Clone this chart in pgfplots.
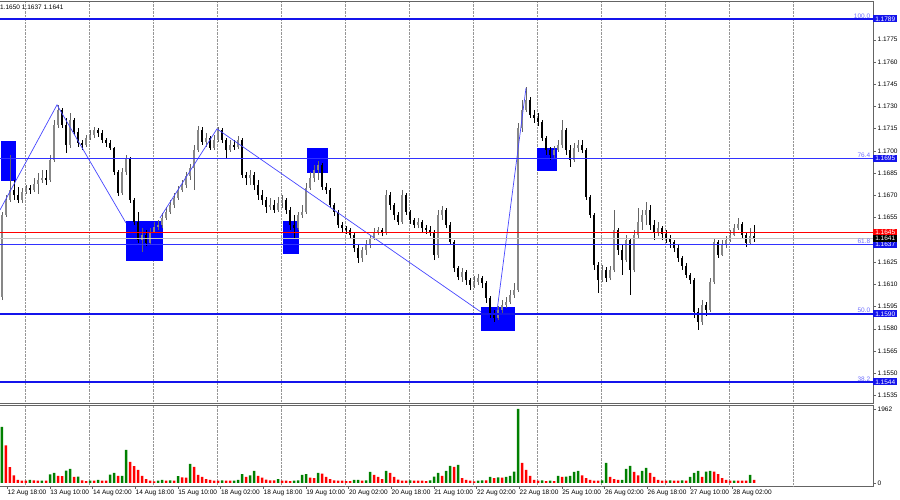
\documentclass[border=0pt]{standalone}
\usepackage{fontspec}
\setmainfont{Liberation Sans}
\usepackage{pgfplots}
\usepackage{pgfplotstable}
\pgfplotsset{compat=1.18}

\definecolor{gridc}{RGB}{150,150,150}
\definecolor{framec}{RGB}{100,100,100}
\definecolor{upc}{RGB}{135,135,135}
\definecolor{upw}{RGB}{100,100,100}
\definecolor{lvl}{RGB}{20,20,235}
\definecolor{lvlthin}{RGB}{50,50,255}
\definecolor{zig}{RGB}{70,70,255}
\definecolor{fibt}{RGB}{110,110,255}
\definecolor{boxb}{RGB}{0,0,255}
\definecolor{volg}{RGB}{0,128,0}
\definecolor{volr}{RGB}{255,0,0}
\definecolor{curl}{RGB}{195,195,195}
\newcommand\lbl{\fontsize{6.5}{7}\selectfont}

% EURUSD H1: x = bar position, o h l c, volume v, g = 1 for a green volume bar
\pgfplotstableread{
x o h l c v g
2 1.16014 1.16587 1.15993 1.16567 1485 1
6 1.16567 1.16702 1.16554 1.16668 1000 0
10 1.16668 1.16972 1.16655 1.16736 420 0
14 1.16736 1.16803 1.16668 1.16702 200 0
18 1.16702 1.16756 1.16648 1.16668 80 0
22 1.16668 1.16749 1.16648 1.16722 60 0
26 1.16722 1.16770 1.16709 1.16749 60 0
30 1.16749 1.16770 1.16709 1.16736 80 1
34 1.16736 1.16817 1.16722 1.16776 70 0
38 1.16776 1.16851 1.16709 1.16803 60 0
42 1.16803 1.16871 1.16783 1.16817 60 1
46 1.16817 1.16871 1.16770 1.16803 60 0
50 1.16803 1.16972 1.16790 1.16938 230 1
54 1.16938 1.17208 1.16925 1.17175 265 1
58 1.17175 1.17310 1.17154 1.17276 190 0
62 1.17276 1.17289 1.17154 1.17175 180 0
66 1.17175 1.17222 1.16986 1.17040 330 1
70 1.17040 1.17256 1.17019 1.17208 371 1
74 1.17208 1.17222 1.17107 1.17127 160 0
78 1.17127 1.17154 1.17026 1.17053 170 1
82 1.17053 1.17073 1.17006 1.17040 70 0
86 1.17040 1.17107 1.17026 1.17087 50 0
90 1.17087 1.17141 1.17073 1.17107 60 1
94 1.17107 1.17161 1.17087 1.17141 60 0
98 1.17141 1.17154 1.17094 1.17121 80 1
102 1.17121 1.17141 1.17053 1.17073 60 0
106 1.17073 1.17087 1.17026 1.17053 60 0
110 1.17053 1.17073 1.17006 1.17019 220 1
114 1.17019 1.17026 1.16837 1.16857 265 1
118 1.16857 1.16871 1.16695 1.16716 190 0
122 1.16716 1.16884 1.16702 1.16857 190 1
126 1.16857 1.16972 1.16837 1.16952 875 1
130 1.16952 1.16959 1.16648 1.16668 557 0
134 1.16668 1.16682 1.16500 1.16520 450 0
138 1.16520 1.16587 1.16378 1.16398 345 0
142 1.16398 1.16479 1.16317 1.16432 190 0
146 1.16432 1.16466 1.16358 1.16378 100 0
150 1.16378 1.16479 1.16365 1.16452 60 0
154 1.16452 1.16520 1.16446 1.16486 40 0
158 1.16486 1.16533 1.16466 1.16500 60 1
162 1.16500 1.16581 1.16479 1.16547 80 1
166 1.16547 1.16621 1.16533 1.16587 60 0
170 1.16587 1.16668 1.16574 1.16635 70 1
174 1.16635 1.16716 1.16614 1.16682 60 0
178 1.16682 1.16763 1.16668 1.16736 180 1
182 1.16736 1.16803 1.16722 1.16770 150 0
186 1.16770 1.16857 1.16749 1.16830 140 0
190 1.16830 1.16911 1.16803 1.16884 504 1
194 1.16884 1.17040 1.16736 1.17006 430 0
198 1.17006 1.17168 1.16992 1.17141 212 0
202 1.17141 1.17161 1.17040 1.17060 160 0
206 1.17060 1.17121 1.17026 1.17087 100 0
210 1.17087 1.17100 1.17006 1.17019 80 0
214 1.17019 1.17107 1.17006 1.17073 60 0
218 1.17073 1.17161 1.17060 1.17141 60 0
222 1.17141 1.17154 1.17053 1.17073 70 1
226 1.17073 1.17087 1.16952 1.17006 60 0
230 1.17006 1.17073 1.16992 1.17040 60 0
234 1.17040 1.17073 1.17006 1.17026 60 1
238 1.17026 1.17100 1.17013 1.17073 80 1
242 1.17073 1.17087 1.16817 1.16837 238 1
246 1.16837 1.16857 1.16770 1.16817 160 0
250 1.16817 1.16871 1.16770 1.16837 200 1
254 1.16837 1.16857 1.16736 1.16770 318 1
258 1.16770 1.16803 1.16668 1.16702 190 0
262 1.16702 1.16736 1.16635 1.16668 140 0
266 1.16668 1.16689 1.16581 1.16621 90 0
270 1.16621 1.16682 1.16601 1.16635 70 0
274 1.16635 1.16668 1.16581 1.16601 70 0
278 1.16601 1.16689 1.16587 1.16648 100 1
282 1.16648 1.16702 1.16614 1.16668 60 0
286 1.16668 1.16682 1.16574 1.16601 60 0
290 1.16601 1.16621 1.16466 1.16500 50 0
294 1.16500 1.16567 1.16405 1.16479 60 1
298 1.16479 1.16587 1.16466 1.16567 70 1
302 1.16567 1.16635 1.16547 1.16587 212 1
306 1.16587 1.16783 1.16574 1.16749 238 1
310 1.16749 1.16857 1.16736 1.16817 140 0
314 1.16817 1.16905 1.16790 1.16871 130 0
318 1.16871 1.16932 1.16803 1.16905 265 1
322 1.16905 1.16918 1.16736 1.16756 250 0
326 1.16756 1.16783 1.16709 1.16736 160 0
330 1.16736 1.16749 1.16614 1.16635 100 0
334 1.16635 1.16648 1.16560 1.16587 70 0
338 1.16587 1.16601 1.16479 1.16500 60 0
342 1.16500 1.16520 1.16452 1.16479 60 0
346 1.16479 1.16493 1.16439 1.16466 50 0
350 1.16466 1.16479 1.16412 1.16432 50 0
354 1.16432 1.16446 1.16317 1.16344 80 1
358 1.16344 1.16365 1.16243 1.16277 80 1
362 1.16277 1.16351 1.16250 1.16331 60 0
366 1.16331 1.16398 1.16297 1.16365 70 1
370 1.16365 1.16432 1.16344 1.16412 292 1
374 1.16412 1.16479 1.16398 1.16452 212 0
378 1.16452 1.16486 1.16432 1.16466 160 0
382 1.16466 1.16479 1.16425 1.16446 100 0
386 1.16446 1.16736 1.16432 1.16702 318 1
390 1.16702 1.16722 1.16601 1.16635 265 0
394 1.16635 1.16648 1.16533 1.16567 160 0
398 1.16567 1.16587 1.16500 1.16520 90 0
402 1.16520 1.16736 1.16506 1.16702 60 0
406 1.16702 1.16716 1.16567 1.16587 60 0
410 1.16587 1.16601 1.16506 1.16533 70 1
414 1.16533 1.16547 1.16479 1.16500 60 0
418 1.16500 1.16547 1.16479 1.16520 60 0
422 1.16520 1.16533 1.16452 1.16479 60 0
426 1.16479 1.16500 1.16439 1.16466 50 0
430 1.16466 1.16493 1.16425 1.16452 70 1
434 1.16452 1.16466 1.16263 1.16297 170 1
438 1.16297 1.16601 1.16277 1.16567 265 1
442 1.16567 1.16628 1.16533 1.16601 186 0
446 1.16601 1.16614 1.16479 1.16500 318 1
450 1.16500 1.16520 1.16365 1.16385 451 1
454 1.16385 1.16398 1.16182 1.16209 424 0
458 1.16209 1.16223 1.16128 1.16149 478 1
462 1.16149 1.16209 1.16115 1.16182 130 0
466 1.16182 1.16196 1.16095 1.16128 80 0
470 1.16128 1.16142 1.16061 1.16095 60 0
474 1.16095 1.16155 1.16074 1.16115 40 0
478 1.16115 1.16169 1.16095 1.16142 60 1
482 1.16142 1.16155 1.16074 1.16108 70 1
486 1.16108 1.16122 1.15973 1.16007 70 0
490 1.16007 1.16020 1.15872 1.15899 160 1
494 1.15899 1.15926 1.15845 1.15872 130 0
498 1.15872 1.15953 1.15858 1.15926 150 1
502 1.15926 1.15993 1.15906 1.15960 140 0
506 1.15960 1.16014 1.15939 1.15980 160 1
510 1.15980 1.16061 1.15966 1.16027 186 1
514 1.16027 1.16108 1.16007 1.16061 300 1
518 1.16061 1.17188 1.16047 1.17154 1962 1
522 1.17154 1.17343 1.17127 1.17276 530 0
526 1.17276 1.17431 1.17262 1.17343 345 0
530 1.17343 1.17364 1.17222 1.17242 186 0
534 1.17242 1.17276 1.17188 1.17222 80 0
538 1.17222 1.17256 1.17168 1.17195 60 0
542 1.17195 1.17208 1.17067 1.17087 70 1
546 1.17087 1.17100 1.16972 1.17006 50 0
550 1.17006 1.17026 1.16938 1.16972 60 1
554 1.16972 1.17033 1.16952 1.17006 50 0
558 1.17006 1.17073 1.16992 1.17040 186 1
562 1.17040 1.17208 1.17019 1.17141 160 0
566 1.17141 1.17154 1.16972 1.17006 170 1
570 1.17006 1.17040 1.16891 1.16938 190 1
574 1.16938 1.17053 1.16925 1.17019 292 1
578 1.17019 1.17073 1.16992 1.17040 318 1
582 1.17040 1.17073 1.16986 1.17006 200 0
586 1.17006 1.17019 1.16668 1.16689 130 0
590 1.16689 1.16702 1.16547 1.16567 80 0
594 1.16567 1.16581 1.16196 1.16230 60 0
598 1.16230 1.16250 1.16041 1.16128 60 0
602 1.16128 1.16230 1.16115 1.16196 70 1
606 1.16196 1.16216 1.16115 1.16142 530 1
610 1.16142 1.16223 1.16128 1.16196 160 0
614 1.16196 1.16601 1.16182 1.16466 100 0
618 1.16466 1.16479 1.16297 1.16331 80 0
622 1.16331 1.16365 1.16162 1.16263 80 1
626 1.16263 1.16432 1.16250 1.16398 371 1
630 1.16398 1.16412 1.16027 1.16196 451 1
634 1.16196 1.16466 1.16182 1.16432 292 0
638 1.16432 1.16614 1.16412 1.16520 200 0
642 1.16520 1.16601 1.16466 1.16567 318 1
646 1.16567 1.16655 1.16500 1.16601 398 1
650 1.16601 1.16635 1.16466 1.16500 265 0
654 1.16500 1.16533 1.16398 1.16452 160 0
658 1.16452 1.16520 1.16425 1.16479 80 0
662 1.16479 1.16493 1.16398 1.16439 60 0
666 1.16439 1.16466 1.16378 1.16412 60 0
670 1.16412 1.16432 1.16344 1.16385 70 1
674 1.16385 1.16398 1.16317 1.16344 60 0
678 1.16344 1.16365 1.16250 1.16277 60 0
682 1.16277 1.16290 1.16196 1.16223 70 1
686 1.16223 1.16243 1.16142 1.16162 60 0
690 1.16162 1.16176 1.16101 1.16128 160 1
694 1.16128 1.16142 1.15872 1.15912 265 1
698 1.15912 1.15939 1.15791 1.15845 318 1
702 1.15845 1.15993 1.15825 1.15960 160 0
706 1.15960 1.15980 1.15885 1.15926 300 1
710 1.15926 1.16142 1.15912 1.16115 318 1
714 1.16115 1.16412 1.16101 1.16385 300 0
718 1.16385 1.16398 1.16277 1.16297 238 0
722 1.16297 1.16398 1.16290 1.16365 130 0
726 1.16365 1.16425 1.16344 1.16398 80 0
730 1.16398 1.16466 1.16385 1.16432 60 0
734 1.16432 1.16506 1.16425 1.16479 60 1
738 1.16479 1.16547 1.16466 1.16506 60 0
742 1.16506 1.16520 1.16412 1.16432 60 0
746 1.16432 1.16446 1.16351 1.16378 60 0
750 1.16378 1.16479 1.16371 1.16425 212 1
754 1.16425 1.16500 1.16385 1.16412 80 0
}\candles

\pgfplotsset{
  up/.style={restrict expr to domain={\thisrow{c}-\thisrow{o}}{0:1}},
  down/.style={restrict expr to domain={\thisrow{c}-\thisrow{o}}{-1:-0.000001}},
}
\tikzset{
  tag/.style={anchor=west, inner sep=0pt, minimum height=7pt, minimum width=24pt,
    text=white, font=\lbl},
  fib/.style={anchor=south east, inner sep=0.6pt, text=fibt, font=\lbl},
}

\begin{document}
\begin{tikzpicture}[x=1pt,y=1pt]
\useasboundingbox (0,0) rectangle (900,500);

% price panel
\begin{axis}[
  at={(-2pt,97pt)}, anchor=south west, scale only axis,
  width=875pt, height=402pt,
  xmin=-2, xmax=873, ymin=1.15298, ymax=1.18011,
  axis line style={framec, line width=0.9pt},
  xtick={25,89,...,793}, xticklabels={}, xtick style={draw=none},
  xmajorgrids, major grid style={densely dotted, gridc, line width=0.9pt},
  ytick={1.1535,1.1550,1.1565,1.1580,1.1595,1.1610,1.1625,1.1655,1.1670,1.1685,1.1700,1.1715,1.1730,1.1745,1.1760,1.1775},
  yticklabels={1.1535,1.1550,1.1565,1.1580,1.1595,1.1610,1.1625,1.1655,1.1670,1.1685,1.1700,1.1715,1.1730,1.1745,1.1760,1.1775},
  ytick pos=right, yticklabel pos=right, tick align=outside,
  major tick length=3pt, ytick style={framec},
  yticklabel style={font=\lbl, inner sep=1.5pt},
  clip mode=individual,
]
% blue zones
\addplot[fill=boxb, draw=none] coordinates {(1,1.17067) (16,1.17067) (16,1.16797) (1,1.16797)};
\addplot[fill=boxb, draw=none] coordinates {(126,1.16527) (163,1.16527) (163,1.16257) (126,1.16257)};
\addplot[fill=boxb, draw=none] coordinates {(283,1.16527) (299,1.16527) (299,1.16304) (283,1.16304)};
\addplot[fill=boxb, draw=none] coordinates {(307,1.17019) (328,1.17019) (328,1.16851) (307,1.16851)};
\addplot[fill=boxb, draw=none] coordinates {(481,1.15946) (515,1.15946) (515,1.15784) (481,1.15784)};
\addplot[fill=boxb, draw=none] coordinates {(537,1.17019) (557,1.17019) (557,1.16864) (537,1.16864)};

% candles as vertical segments: wicks from low to high, bodies from open to close
\addplot[upw, line width=0.8pt, mark=none, up, quiver={u=0, v=\thisrow{h}-\thisrow{l}}]
  table[x=x, y=l] {\candles};
\addplot[black, line width=0.8pt, mark=none, down, quiver={u=0, v=\thisrow{h}-\thisrow{l}}]
  table[x=x, y=l] {\candles};
\addplot[upc, line width=2.7pt, mark=none, up, quiver={u=0, v=\thisrow{c}-\thisrow{o}}]
  table[x=x, y=o] {\candles};
\addplot[black, line width=2.7pt, mark=none, down, quiver={u=0, v=\thisrow{o}-\thisrow{c}}]
  table[x=x, y=c] {\candles};

% swing lines
\addplot[zig, line width=0.7pt] coordinates {(0,1.16601) (57,1.17310) (126,1.16513)};
\addplot[zig, line width=0.7pt] coordinates {(160,1.16547) (217,1.17148) (481,1.15912)};
\addplot[zig, line width=0.7pt] coordinates {(497,1.15919) (526,1.17424)};

% levels
\addplot[lvl, line width=1.8pt] coordinates {(-2,1.1789) (873,1.1789)};
\addplot[lvlthin, line width=0.9pt] coordinates {(-2,1.1695) (873,1.1695)};
\addplot[red, line width=0.9pt] coordinates {(-2,1.1645) (873,1.1645)};
\addplot[curl, line width=0.9pt] coordinates {(-2,1.1641) (873,1.1641)};
\addplot[lvlthin, line width=0.9pt] coordinates {(-2,1.1637) (873,1.1637)};
\addplot[lvl, line width=1.8pt] coordinates {(-2,1.1590) (873,1.1590)};
\addplot[lvl, line width=1.8pt] coordinates {(-2,1.1544) (873,1.1544)};

\node[fib] at (axis cs:871,1.1789) {100.0};
\node[fib] at (axis cs:871,1.1695) {76.4};
\node[fib] at (axis cs:871,1.1637) {61.8};
\node[fib] at (axis cs:871,1.1590) {50.0};
\node[fib] at (axis cs:871,1.1544) {38.2};

\node[tag, fill=lvl] at (axis cs:873,1.1789) {1.1789};
\node[tag, fill=lvl] at (axis cs:873,1.1695) {1.1695};
\node[tag, fill=red] at (axis cs:873,1.1645) {1.1645};
\node[tag, fill=lvl] at (axis cs:873,1.1637) {1.1637};
\node[tag, fill=black] at (axis cs:873,1.1641) {1.1641};
\node[tag, fill=lvl] at (axis cs:873,1.1590) {1.1590};
\node[tag, fill=lvl] at (axis cs:873,1.1544) {1.1544};

\node[anchor=base west, inner sep=0pt, font=\lbl] at (axis cs:0,1.17951) {1.1650 1.1637 1.1641};
\end{axis}

% volume panel
\begin{axis}[
  at={(-2pt,14pt)}, anchor=south west, scale only axis,
  width=875pt, height=81pt,
  xmin=-2, xmax=873, ymin=-80, ymax=2068,
  axis line style={framec, line width=0.9pt},
  xtick={7,49.67,92.33,135,177.67,220.33,263,305.67,348.33,391,433.67,476.33,519,561.67,604.33,647,689.67,732.33},
  xticklabels={12 Aug 18:00,13 Aug 10:00,14 Aug 02:00,14 Aug 18:00,15 Aug 10:00,18 Aug 02:00,18 Aug 18:00,19 Aug 10:00,20 Aug 02:00,20 Aug 18:00,21 Aug 10:00,22 Aug 02:00,22 Aug 18:00,25 Aug 10:00,26 Aug 02:00,26 Aug 18:00,27 Aug 10:00,28 Aug 02:00},
  xtick pos=left, tick align=outside, major tick length=3pt,
  tick style={framec},
  xticklabel style={anchor=north west, inner sep=0pt, font=\lbl, xshift=0.5pt, yshift=-0.5pt},
  extra x ticks={25,89,153,217,281,345,409,473,537,601,665,729,793},
  extra x tick labels={},
  extra x tick style={grid=major, major tick length=0pt},
  major grid style={densely dotted, gridc, line width=0.9pt},
  ytick={0,1962}, yticklabels={0,1962},
  ytick pos=right, yticklabel pos=right,
  yticklabel style={font=\lbl, inner sep=1.5pt},
]
\addplot[ybar, bar width=2.5pt, bar shift=0pt, fill=volg, draw=none,
  restrict expr to domain={\thisrow{g}}{0.5:1.5}] table[x=x, y=v] {\candles};
\addplot[ybar, bar width=2.5pt, bar shift=0pt, fill=volr, draw=none,
  restrict expr to domain={\thisrow{g}}{-0.5:0.5}] table[x=x, y=v] {\candles};
\end{axis}
\end{tikzpicture}
\end{document}
